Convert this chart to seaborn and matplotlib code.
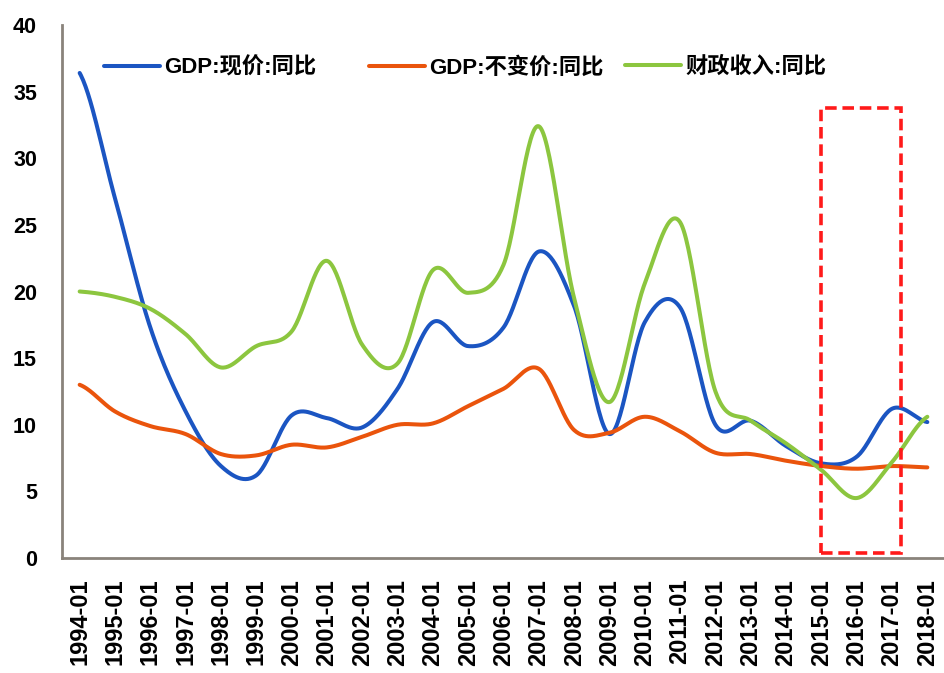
import numpy as np
import pandas as pd
import matplotlib
matplotlib.use("Agg")
import matplotlib.pyplot as plt
import seaborn as sns
from matplotlib.patches import Rectangle

# Annual observations (year-on-year growth, %)
periods = ["1994-01", "1995-01", "1996-01", "1997-01", "1998-01", "1999-01",
           "2000-01", "2001-01", "2002-01", "2003-01", "2004-01", "2005-01",
           "2006-01", "2007-01", "2008-01", "2009-01", "2010-01", "2011-01",
           "2012-01", "2013-01", "2014-01", "2015-01", "2016-01", "2017-01",
           "2018-01"]

gdp_nominal = [36.4, 27.0, 17.3, 11.0, 6.9, 6.2, 10.7, 10.5, 9.8, 12.7,
               17.7, 15.9, 17.3, 23.0, 18.9, 9.3, 17.7, 18.8, 10.0, 10.3,
               8.4, 7.1, 7.6, 11.2, 10.2]

gdp_real = [13.0, 11.0, 9.9, 9.3, 7.8, 7.7, 8.5, 8.3, 9.1, 10.0,
            10.1, 11.4, 12.7, 14.2, 9.6, 9.4, 10.6, 9.5, 7.9, 7.8,
            7.3, 6.9, 6.7, 6.9, 6.8]

fiscal_revenue = [20.0, 19.6, 18.7, 16.8, 14.3, 15.9, 17.0, 22.3, 16.0, 14.6,
                  21.6, 19.9, 22.0, 32.4, 19.5, 11.7, 20.6, 25.2, 12.5, 10.3,
                  8.6, 6.6, 4.5, 7.2, 10.6]

series_names = ["GDP:现价:同比", "GDP:不变价:同比", "财政收入:同比"]
series_colors = ["#1b55c2", "#ea540c", "#8cc63f"]

# highlighted window: 2015 to early 2017
highlight_start = "2015-01"
highlight_end = "2017-01"


def smooth_curve(values, steps=30):
    """Cubic Hermite (Catmull-Rom) path through the yearly points."""
    p = np.asarray(values, dtype=float)
    n = len(p)
    ext = np.concatenate([[p[0]], p, [p[-1]]])
    t = np.linspace(0.0, 1.0, steps, endpoint=False)
    h00 = 2 * t**3 - 3 * t**2 + 1
    h10 = t**3 - 2 * t**2 + t
    h01 = -2 * t**3 + 3 * t**2
    h11 = t**3 - t**2
    xs, ys = [], []
    for i in range(n - 1):
        p0, p1, p2, p3 = ext[i], ext[i + 1], ext[i + 2], ext[i + 3]
        m1 = (p2 - p0) / 2.0
        m2 = (p3 - p1) / 2.0
        xs.append(i + t)
        ys.append(h00 * p1 + h10 * m1 + h01 * p2 + h11 * m2)
    xs.append(np.array([n - 1.0]))
    ys.append(np.array([p[-1]]))
    return np.concatenate(xs), np.concatenate(ys)


frames = []
for name, vals in zip(series_names, [gdp_nominal, gdp_real, fiscal_revenue]):
    sx, sy = smooth_curve(vals)
    frames.append(pd.DataFrame({"pos": sx, "value": sy, "series": name}))
df = pd.concat(frames, ignore_index=True)

sns.set_style("white")
plt.rcParams["font.family"] = ["Liberation Sans", "Noto Sans CJK SC", "DejaVu Sans"]
plt.rcParams["text.color"] = "black"
plt.rcParams["xtick.labelcolor"] = "black"
plt.rcParams["ytick.labelcolor"] = "black"

fig = plt.figure(figsize=(9.44, 6.73), dpi=100)
ax = fig.add_axes([62 / 944, 115 / 673, 883 / 944, 533 / 673])

sns.lineplot(data=df, x="pos", y="value", hue="series", hue_order=series_names,
             palette=series_colors, linewidth=2.9, estimator=None, sort=False,
             ax=ax)

# dashed highlight box
x0 = periods.index(highlight_start)
x1 = periods.index(highlight_end) + 0.25
ax.add_patch(Rectangle((x0, 0.35), x1 - x0, 33.45, fill=False,
                       edgecolor="#ff1a1a", linewidth=2.6,
                       linestyle=(0, (3.2, 1.6)), zorder=5))

ax.set_xlim(-0.5, len(periods) - 0.5)
ax.set_ylim(0, 40)
ax.set_xlabel("")
ax.set_ylabel("")

spine_color = "#8a837b"
for side in ["top", "right"]:
    ax.spines[side].set_visible(False)
for side in ["left", "bottom"]:
    ax.spines[side].set_color(spine_color)
    ax.spines[side].set_linewidth(2.0)

ax.set_yticks(np.arange(0, 41, 5))
ax.set_yticklabels([str(v) for v in range(0, 41, 5)], fontsize=15.5,
                   fontweight="bold", color="black")
ax.tick_params(axis="y", direction="out", length=6, width=1.6,
               color=spine_color, pad=12)

ax.set_xticks(np.arange(len(periods)))
ax.set_xticklabels(periods, rotation=90, fontsize=17, fontweight="bold",
                   color="black")
ax.set_xticks(np.arange(-0.5, len(periods), 1), minor=True)
ax.tick_params(axis="x", which="major", length=0, pad=15)
ax.tick_params(axis="x", which="minor", direction="out", length=8,
               width=1.6, color=spine_color)

# one legend entry per series, laid out in a single row across the top
handles, labels = ax.get_legend_handles_labels()
ax.get_legend().remove()
entry_x = [104, 369, 625]
for h, lab, ex in zip(handles, labels, entry_x):
    leg = fig.legend([h], [lab], frameon=False, loc="upper left",
                     bbox_to_anchor=(ex / 944, 1 - 57 / 673),
                     borderpad=0, borderaxespad=0,
                     handlelength=2.5, handletextpad=0.2,
                     prop={"size": 16, "weight": "bold"})
    for txt in leg.get_texts():
        txt.set_color("black")

fig.savefig("out.png", dpi=100, facecolor="white")
